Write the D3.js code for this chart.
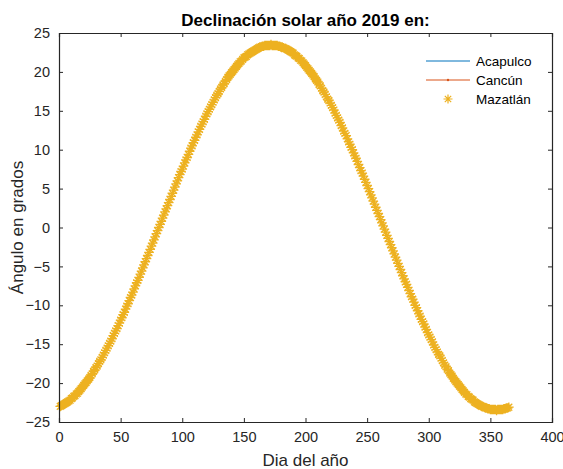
<!DOCTYPE html>
<html>
<head>
<meta charset="utf-8">
<script src="https://cdn.jsdelivr.net/npm/d3@7"></script>
<style>
  body { margin: 0; background: #fff; }
  svg { font-family: "Liberation Sans", Arial, sans-serif; }
</style>
</head>
<body>
<div id="container"></div>
<script>
// declinación solar (grados) para cada día del año
var declinacion = [
  -23.0,-22.9,-22.8,-22.7,-22.6,-22.5,-22.4,-22.3,-22.2,-22.0,
  -21.9,-21.7,-21.6,-21.4,-21.3,-21.1,-20.9,-20.7,-20.5,-20.3,
  -20.1,-19.9,-19.7,-19.5,-19.3,-19.0,-18.8,-18.5,-18.3,-18.0,
  -17.8,-17.5,-17.2,-17.0,-16.7,-16.4,-16.1,-15.8,-15.5,-15.2,
  -14.9,-14.6,-14.3,-13.9,-13.6,-13.3,-13.0,-12.6,-12.3,-11.9,
  -11.6,-11.2,-10.9,-10.5,-10.1,-9.8,-9.4,-9.0,-8.7,-8.3,
  -7.9,-7.5,-7.1,-6.8,-6.4,-6.0,-5.6,-5.2,-4.8,-4.4,
  -4.0,-3.6,-3.2,-2.8,-2.4,-2.0,-1.6,-1.2,-0.8,-0.4,
  0.0,0.4,0.8,1.2,1.6,2.0,2.4,2.8,3.2,3.6,
  4.0,4.4,4.8,5.2,5.6,6.0,6.4,6.8,7.2,7.5,
  7.9,8.3,8.7,9.0,9.4,9.8,10.2,10.5,10.9,11.2,
  11.6,11.9,12.3,12.6,13.0,13.3,13.6,13.9,14.3,14.6,
  14.9,15.2,15.5,15.8,16.1,16.4,16.7,17.0,17.2,17.5,
  17.8,18.0,18.3,18.5,18.8,19.0,19.3,19.5,19.7,19.9,
  20.1,20.3,20.5,20.7,20.9,21.1,21.3,21.4,21.6,21.8,
  21.9,22.0,22.2,22.3,22.4,22.5,22.6,22.7,22.8,22.9,
  23.0,23.1,23.2,23.2,23.3,23.3,23.4,23.4,23.4,23.4,
  23.4,23.5,23.4,23.4,23.4,23.4,23.4,23.3,23.3,23.2,
  23.2,23.1,23.0,23.0,22.9,22.8,22.7,22.6,22.5,22.4,
  22.2,22.1,22.0,21.8,21.7,21.5,21.4,21.2,21.0,20.8,
  20.6,20.4,20.2,20.0,19.8,19.6,19.4,19.1,18.9,18.7,
  18.4,18.2,17.9,17.6,17.4,17.1,16.8,16.5,16.3,16.0,
  15.7,15.4,15.1,14.7,14.4,14.1,13.8,13.5,13.1,12.8,
  12.4,12.1,11.8,11.4,11.0,10.7,10.3,10.0,9.6,9.2,
  8.9,8.5,8.1,7.7,7.3,7.0,6.6,6.2,5.8,5.4,
  5.0,4.6,4.2,3.8,3.4,3.0,2.6,2.2,1.8,1.4,
  1.0,0.6,0.2,-0.2,-0.6,-1.0,-1.4,-1.8,-2.2,-2.6,
  -3.0,-3.4,-3.8,-4.2,-4.6,-5.0,-5.4,-5.8,-6.2,-6.6,
  -7.0,-7.3,-7.7,-8.1,-8.5,-8.9,-9.2,-9.6,-10.0,-10.3,
  -10.7,-11.1,-11.4,-11.8,-12.1,-12.4,-12.8,-13.1,-13.5,-13.8,
  -14.1,-14.4,-14.7,-15.1,-15.4,-15.7,-16.0,-16.3,-16.5,-16.8,
  -17.1,-17.4,-17.7,-17.9,-18.2,-18.4,-18.7,-18.9,-19.1,-19.4,
  -19.6,-19.8,-20.0,-20.2,-20.4,-20.6,-20.8,-21.0,-21.2,-21.4,
  -21.5,-21.7,-21.8,-22.0,-22.1,-22.2,-22.4,-22.5,-22.6,-22.7,
  -22.8,-22.9,-23.0,-23.0,-23.1,-23.2,-23.2,-23.3,-23.3,-23.4,
  -23.4,-23.4,-23.4,-23.4,-23.5,-23.4,-23.4,-23.4,-23.4,-23.4,
  -23.3,-23.3,-23.2,-23.2,-23.1
];
var dias = declinacion.map((d, i) => i + 1);

var ciudades = ["Acapulco", "Cancún", "Mazatlán"];
var colores = ["#0072BD", "#D95319", "#EDB120"];
var xTicks = [0, 50, 100, 150, 200, 250, 300, 350, 400];
var yTicks = [-25, -20, -15, -10, -5, 0, 5, 10, 15, 20, 25];

var width = 563;
var height = 469;
var margin = {left: 59, top: 33, right: 11, bottom: 47};
var ink = "#262626";

const svg = d3.select("#container")
              .append("svg")
              .attr("width", width)
              .attr("height", height);

var xScale = d3.scaleLinear()
               .domain([0, 400])
               .range([margin.left, width - margin.right]);

var yScale = d3.scaleLinear()
               .domain([-25, 25])
               .range([height - margin.bottom, margin.top]);

var puntos = dias.map((d, i) => ({dia: d, ang: declinacion[i]}));

// axes, ticks inward on all four sides (box on)
var tickLen = 4;
var xAxis = d3.axisBottom(xScale).tickValues(xTicks).tickSize(-tickLen).tickPadding(10);
var yAxis = d3.axisLeft(yScale).tickValues(yTicks).tickSize(-tickLen).tickPadding(9);
var xTop = d3.axisTop(xScale).tickValues(xTicks).tickSize(-tickLen).tickFormat("");
var yRight = d3.axisRight(yScale).tickValues(yTicks).tickSize(-tickLen).tickFormat("");

function estilo(g) {
  g.selectAll("path").attr("stroke", ink).attr("stroke-width", 1.2);
  g.selectAll("line").attr("stroke", ink).attr("stroke-width", 1);
  g.selectAll("text").attr("font-size", 14.5).attr("fill", ink)
   .attr("font-family", '"Liberation Sans", Arial, sans-serif');
}

// series: Acapulco (line), Cancún (line + dots), Mazatlán (stars)
var linea = d3.line().x(d => xScale(d.dia)).y(d => yScale(d.ang));

svg.append("path")
   .datum(puntos)
   .attr("d", linea)
   .attr("fill", "none")
   .attr("stroke", colores[0])
   .attr("stroke-width", 1);

svg.append("path")
   .datum(puntos)
   .attr("d", linea)
   .attr("fill", "none")
   .attr("stroke", colores[1])
   .attr("stroke-width", 1);

svg.selectAll(".punto")
   .data(puntos)
   .enter()
   .append("circle")
   .attr("class", "punto")
   .attr("cx", d => xScale(d.dia))
   .attr("cy", d => yScale(d.ang))
   .attr("r", 1)
   .attr("fill", colores[1]);

function estrella(cx, cy, r) {
  var k = r * 0.7071;
  return "M" + (cx - r) + "," + cy + "h" + (2 * r) +
         "M" + cx + "," + (cy - r) + "v" + (2 * r) +
         "M" + (cx - k) + "," + (cy - k) + "l" + (2 * k) + "," + (2 * k) +
         "M" + (cx - k) + "," + (cy + k) + "l" + (2 * k) + "," + (-2 * k);
}

svg.append("path")
   .attr("d", puntos.map(d => estrella(xScale(d.dia), yScale(d.ang), 4.8)).join(""))
   .attr("fill", "none")
   .attr("stroke", colores[2])
   .attr("stroke-width", 1.3);

svg.append("g")
   .attr("transform", "translate(0," + (height - margin.bottom) + ")")
   .call(xAxis).call(estilo);
svg.append("g")
   .attr("transform", "translate(" + margin.left + ",0)")
   .call(yAxis).call(estilo);
svg.append("g")
   .attr("transform", "translate(0," + margin.top + ")")
   .call(xTop).call(estilo);
svg.append("g")
   .attr("transform", "translate(" + (width - margin.right) + ",0)")
   .call(yRight).call(estilo);

// labels
svg.append("text")
   .attr("x", (xScale(0) + xScale(400)) / 2)
   .attr("y", 26)
   .attr("text-anchor", "middle")
   .attr("font-size", 17)
   .attr("font-weight", "bold")
   .attr("fill", "#000")
   .text("Declinación solar año 2019 en:");

svg.append("text")
   .attr("x", (xScale(0) + xScale(400)) / 2)
   .attr("y", 466)
   .attr("text-anchor", "middle")
   .attr("font-size", 17)
   .attr("fill", ink)
   .text("Dia del año");

svg.append("text")
   .attr("transform", "rotate(-90)")
   .attr("x", -(yScale(-25) + yScale(25)) / 2)
   .attr("y", 23)
   .attr("text-anchor", "middle")
   .attr("font-size", 17)
   .attr("fill", ink)
   .text("Ángulo en grados");

// legend
var leg = svg.append("g");
var legX = 426, legY = 61, legStep = 19;

ciudades.forEach((c, i) => {
  var y = legY + i * legStep;
  if (i < 2) {
    leg.append("line")
       .attr("x1", legX).attr("x2", legX + 44)
       .attr("y1", y).attr("y2", y)
       .attr("stroke", colores[i])
       .attr("stroke-width", 1);
  }
  if (i == 1) {
    leg.append("circle").attr("cx", legX + 22).attr("cy", y).attr("r", 1.2).attr("fill", colores[i]);
  }
  if (i == 2) {
    leg.append("path")
       .attr("d", estrella(legX + 22, y, 4.5))
       .attr("fill", "none")
       .attr("stroke", colores[i])
       .attr("stroke-width", 1.2);
  }
  leg.append("text")
     .attr("x", legX + 50)
     .attr("y", y)
     .attr("dy", "0.35em")
     .attr("font-size", 13.5)
     .attr("fill", "#000")
     .text(c);
});
</script>
</body>
</html>
